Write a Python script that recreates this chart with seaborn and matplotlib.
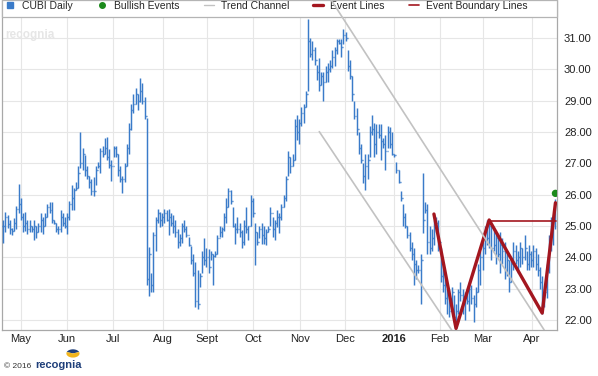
import numpy as np
import pandas as pd
import seaborn as sns
import matplotlib.pyplot as plt
from matplotlib.lines import Line2D
from matplotlib.patches import Rectangle, Wedge

# daily OHLC bars, Apr 21 2015 .. Apr 18 2016 (one entry per trading day)
lows = [
    24.45, 24.8, 24.95, 24.75, 24.7, 24.85, 24.9, 25.4,
    25.2, 24.8, 24.85, 24.75, 24.8, 24.8, 24.55, 24.6, 24.8, 24.8,
    24.75, 25.0, 25.3, 25.4, 25.1, 25.05, 24.8, 24.75, 24.8, 25.0,
    24.95, 24.75, 25.2, 25.5, 25.5, 26.15, 26.2, 26.85, 26.8, 26.6,
    26.5, 26.2, 26.0, 25.95, 26.3, 26.85, 26.7, 27.2, 27.3, 27.1,
    26.85, 26.45,
    27.2, 27.2, 26.6, 26.4, 26.05, 26.4, 26.9, 27.3, 28.05, 28.6,
    28.9, 28.7, 28.95, 28.9, 28.4, 23.1, 22.78, 22.9, 22.9, 24.2,
    25.1, 24.97,
    25.0, 25.1, 25.15, 24.7, 25.0, 24.76, 24.65, 24.3, 24.35, 24.45,
    24.8, 24.65, 24.35, 23.8, 23.4, 22.4, 22.36, 23.05, 23.5, 23.75,
    23.7,
    23.5, 23.9, 23.1, 24.0, 24.1, 24.65, 24.65, 24.85, 25.1, 25.6,
    25.7, 24.97, 24.44, 24.76, 24.65, 24.3, 24.4, 24.76, 24.54, 25.0,
    25.3,
    23.75, 24.4, 24.6, 24.44, 24.44, 24.4, 24.8, 25.0, 24.65, 24.54,
    24.97, 24.76, 25.2, 25.6, 25.8, 26.6, 26.7, 26.9, 27.1, 27.75,
    27.6, 28.2,
    28.3, 28.8, 29.3, 30.4, 30.3, 30.15, 29.67, 29.3, 29.5, 29.0,
    29.6, 29.6, 29.9, 30.05, 30.1, 30.5, 30.8, 30.4, 30.8, 30.9,
    29.95, 29.7, 29.0, 28.4, 27.9, 27.3, 27.0, 26.36, 26.15, 26.5,
    27.2, 27.9, 27.2, 27.3, 27.8, 27.1, 27.5, 26.8, 27.5, 27.5,
    27.25, 27.2,
    26.68, 26.36, 25.8, 25.0, 24.95, 24.6, 24.2, 23.9, 23.1, 23.3,
    23.5, 22.5, 24.76, 25.4, 24.1, 24.1, 24.2, 24.4, 24.8,
    24.2, 23.2, 22.9, 22.5, 22.2, 22.1, 22.3, 21.95, 21.75, 22.2,
    22.6, 22.2, 22.0, 22.5, 22.3, 22.5, 21.95, 22.4, 22.9, 23.1,
    23.6, 24.1, 24.4, 24.3, 23.9, 24.2, 23.8, 24.0, 23.5, 23.8,
    23.3, 23.4, 22.9, 23.2, 23.6, 23.8, 23.5, 23.7, 23.8, 23.9,
    23.6, 23.6,
    23.7, 23.7, 23.6, 23.4, 23.0, 22.2, 22.4, 22.7, 23.5, 24.2,
    24.4, 24.9,
]
highs = [
    25.2, 25.45, 25.35, 25.2, 24.95, 25.25, 25.65, 26.35,
    25.9, 25.4, 25.45, 25.2, 25.2, 25.0, 25.2, 25.0, 25.1, 25.4,
    25.3, 25.4, 25.7, 25.75, 25.75, 25.2, 25.1, 25.0, 25.5, 25.4,
    25.3, 25.4, 25.8, 26.3, 26.2, 26.4, 26.9, 28.0, 27.5, 27.25,
    26.9, 26.6, 26.5, 26.55, 26.9, 27.05, 27.5, 27.55, 27.8, 27.85,
    27.45, 27.1,
    27.55, 27.55, 27.3, 26.9, 26.6, 27.0, 27.6, 28.3, 28.9, 29.2,
    29.4, 29.2, 29.72, 29.55, 29.1, 28.44, 24.33, 23.5, 24.8, 25.3,
    25.55, 25.45,
    25.4, 25.55, 25.5, 25.55, 25.4, 25.35, 25.2, 24.9, 24.75, 25.1,
    25.2, 25.0, 24.65, 24.35, 24.1, 23.85, 23.6, 23.5, 24.2, 24.6,
    24.3,
    24.25, 24.2, 24.1, 24.2, 24.7, 25.0, 24.97, 25.4, 25.9, 26.2,
    26.15, 25.6, 25.08, 25.3, 25.08, 24.87, 25.18, 25.6, 25.0, 26.0,
    25.9,
    25.1, 24.8, 25.0, 25.1, 25.0, 24.9, 25.0, 25.6, 25.3, 25.18,
    25.5, 25.4, 25.7, 26.0, 26.6, 27.4, 27.2, 27.3, 28.4, 28.55,
    28.4, 28.8,
    28.9, 29.3, 31.6, 31.0, 30.9, 30.7, 30.15, 30.36, 29.9, 29.9,
    30.1, 30.2, 30.3, 30.6, 30.7, 30.95, 30.95, 30.95, 31.27, 31.2,
    30.6, 30.3, 29.8, 29.0, 28.75, 28.0, 27.6, 27.0, 27.3, 27.3,
    28.2, 28.55, 28.3, 28.25, 28.25, 28.25, 27.8, 27.9, 28.2, 28.15,
    28.0, 27.3,
    27.05, 26.8, 26.1, 25.7, 25.4, 25.0, 24.8, 24.5, 24.3, 23.9,
    23.75, 24.1, 26.7, 25.75, 25.7, 25.0, 24.9, 25.2, 25.3,
    25.2, 24.3, 23.8, 23.4, 23.0, 23.0, 23.05, 22.8, 22.5, 23.0,
    23.2, 23.0, 22.9, 23.0, 23.2, 23.1, 22.8, 23.05, 23.8, 24.2,
    24.5, 25.0, 25.2, 25.15, 25.0, 24.9, 24.8, 24.7, 24.8, 24.6,
    24.5, 24.2, 23.9, 24.0, 24.5, 24.4, 24.2, 24.5, 24.3, 24.7,
    24.2, 24.4,
    24.2, 24.4, 24.3, 24.1, 23.7, 23.4, 23.0, 23.8, 24.7, 25.3,
    25.3, 25.85,
]
closes = [
    25.0, 25.3, 25.05, 24.9, 24.85, 25.1, 25.55, 25.7,
    25.3, 25.0, 25.1, 24.9, 25.0, 24.9, 25.0, 24.8, 25.0, 25.2,
    25.0, 25.3, 25.6, 25.5, 25.2, 25.1, 24.9, 24.9, 25.3, 25.1,
    25.0, 25.3, 25.7, 25.9, 26.15, 26.2, 26.7, 27.0, 27.3, 26.8,
    26.6, 26.4, 26.1, 26.1, 26.8, 26.9, 27.4, 27.3, 27.5, 27.2,
    26.95, 26.9,
    27.5, 27.3, 26.8, 26.5, 26.5, 26.9, 27.5, 28.1, 28.7, 28.9,
    29.2, 29.0, 29.3, 29.0, 28.5, 23.3, 24.1, 23.1, 24.7, 25.2,
    25.4, 25.2,
    25.3, 25.4, 25.2, 25.3, 25.1, 25.0, 24.8, 24.5, 24.6, 25.0,
    24.9, 24.7, 24.4, 23.9, 23.5, 22.6, 22.5, 23.4, 24.0, 23.9,
    24.0,
    23.7, 24.1, 24.05, 24.1, 24.6, 24.8, 24.9, 25.3, 25.6, 26.1,
    25.8, 25.0, 24.9, 24.9, 24.8, 24.5, 25.0, 24.9, 25.0, 25.8,
    25.4,
    24.8, 24.5, 24.9, 24.7, 24.6, 24.8, 24.9, 25.4, 24.9, 25.1,
    25.3, 25.3, 25.6, 25.9, 26.5, 27.2, 26.9, 27.1, 28.2, 28.0,
    28.3, 28.6,
    28.8, 29.2, 30.9, 30.5, 30.6, 30.3, 29.9, 29.5, 29.8, 29.6,
    29.9, 30.0, 30.1, 30.4, 30.6, 30.9, 30.85, 30.7, 31.1, 31.0,
    30.1, 29.8, 29.2, 28.5, 28.1, 27.5, 27.1, 26.6, 26.9, 27.1,
    28.0, 28.1, 27.6, 28.0, 27.9, 27.7, 27.6, 27.4, 28.0, 27.6,
    27.3, 27.25,
    26.8, 26.4, 25.9, 25.3, 25.0, 24.7, 24.3, 24.1, 23.8, 23.6,
    23.6, 23.9, 25.2, 25.5, 24.5, 24.3, 24.6, 25.0, 25.1,
    24.5, 23.4, 23.1, 22.7, 22.8, 22.3, 22.9, 22.1, 22.3, 22.9,
    22.8, 22.5, 22.7, 22.6, 23.0, 22.7, 22.5, 22.9, 23.6, 24.0,
    24.3, 24.9, 24.6, 25.0, 24.3, 24.4, 24.6, 24.1, 24.4, 24.2,
    23.6, 23.9, 23.2, 23.8, 24.2, 23.9, 24.0, 24.3, 24.0, 24.3,
    23.8, 24.1,
    23.9, 24.2, 23.8, 23.6, 23.2, 22.5, 22.9, 23.6, 24.5, 25.1,
    25.2, 25.7,
]

month_labels = ['May', 'Jun', 'Jul', 'Aug', 'Sept', 'Oct', 'Nov', 'Dec',
                '2016', 'Feb', 'Mar', 'Apr']
month_pos = [8.1, 29.0, 49.8, 72.4, 92.3, 113.1, 134.4, 154.8, 176.9,
             197.7, 217.2, 239.4]

event_x = [195, 205, 220, 244, 250]
event_y = [25.38, 21.73, 25.19, 22.22, 25.74]
boundary_x = [220, 250.3]
boundary_y = [25.17, 25.17]
upper_x = [148.5, 244.9]
upper_y = [32.21, 21.68]
lower_x = [143.1, 203.0]
lower_y = [28.01, 21.68]
bullish_x = [250]
bullish_y = [26.04]

blue = '#3a7bc9'
red = '#a3161f'
green = '#1b8a1b'
grey = '#c2c2c2'
navy = '#1f3f7a'

sns.set_style('white')
plt.rcParams['font.family'] = ['Liberation Sans', 'DejaVu Sans']

fig = plt.figure(figsize=(5.98, 3.76), dpi=100)
ax = fig.add_axes([2 / 598, 46 / 376, 555 / 598, 330 / 376])

x = np.arange(len(closes))
opens = [closes[0]] + closes[:-1]
ax.vlines(x, lows, highs, color=blue, lw=1.05, zorder=3)
ax.hlines(closes, x, x + 0.45, color=blue, lw=1.0, zorder=3)
ax.hlines(opens, x - 0.45, x, color=blue, lw=1.0, zorder=3)

channel = pd.DataFrame({'x': upper_x + lower_x, 'y': upper_y + lower_y,
                        'side': ['upper'] * 2 + ['lower'] * 2})
sns.lineplot(data=channel, x='x', y='y', units='side', estimator=None,
             sort=False, color=grey, lw=1.2, ax=ax, zorder=7)

events = pd.DataFrame({'x': event_x, 'y': event_y})
sns.lineplot(data=events, x='x', y='y', sort=False, color=red, lw=2.4,
             ax=ax, zorder=6)
sns.lineplot(x=boundary_x, y=boundary_y, color=red, lw=1.2, ax=ax, zorder=6)
sns.scatterplot(x=bullish_x, y=bullish_y, color=green, s=28, edgecolor='none',
                ax=ax, zorder=8)

ax.set_xlim(-0.5, 250.7)
ax.set_ylim(21.68, 32.21)
ax.set_xlabel('')
ax.set_ylabel('')

ax.set_xticks(month_pos)
ax.set_xticklabels(month_labels, fontsize=8, color='#222222')
for t in ax.get_xticklabels():
    if t.get_text() == '2016':
        t.set_fontweight('bold')
ax.set_yticks(range(22, 32))
ax.set_yticklabels(['%.2f' % v for v in range(22, 32)], fontsize=8,
                   color='#222222')
ax.yaxis.tick_right()
ax.tick_params(axis='both', length=0)
ax.tick_params(axis='x', pad=3)
ax.tick_params(axis='y', pad=5)

ax.grid(True, color='#e6e6e6', lw=0.8)
ax.set_axisbelow(True)
for side in ['left', 'right', 'bottom']:
    ax.spines[side].set_color('#a8a8a8')
    ax.spines[side].set_linewidth(0.9)
ax.spines['top'].set_visible(False)

# faint watermark under the legend
ax.text(0.006, 0.885, 'recognia', transform=ax.transAxes, fontsize=8.5,
        fontweight='bold', color='#e6e6e6', zorder=1)

box = Rectangle((0, 1 - 17 / 330), 1, 17 / 330, transform=ax.transAxes,
                facecolor='white', edgecolor='#b4b4b4', lw=0.9,
                zorder=4, clip_on=False)
ax.add_patch(box)

handles = [
    Line2D([], [], ls='none', marker='s', ms=5, color=blue),
    Line2D([], [], ls='none', marker='o', ms=4, color=green),
    Line2D([], [], color=grey, lw=1.0),
    Line2D([], [], color=red, lw=2.4),
    Line2D([], [], color=red, lw=1.2),
]
labels = ['CUBI Daily', 'Bullish Events', 'Trend Channel', 'Event Lines',
          'Event Boundary Lines']
leg = ax.legend(handles, labels, ncol=5, loc='upper left',
                bbox_to_anchor=(3 / 555, 1 - 1 / 330), frameon=False,
                fontsize=7.5, handlelength=1.0, handletextpad=0.65,
                columnspacing=2.3, borderpad=0, borderaxespad=0)
leg.set_zorder(5)

fig.text(0.006, 0.022, '\u00a9 2016', fontsize=6, color='#333333')
fig.text(0.059, 0.022, 'recognia', fontsize=8, fontweight='bold', color=navy)
for a1, a2, col in [(20, 160, navy), (160, 380, '#f2b51c')]:
    fig.patches.append(Wedge((0.122, 0.06), 0.011, a1, a2,
                             transform=fig.transFigure, facecolor=col,
                             edgecolor='none', figure=fig))

fig.savefig('out.png', dpi=100)
